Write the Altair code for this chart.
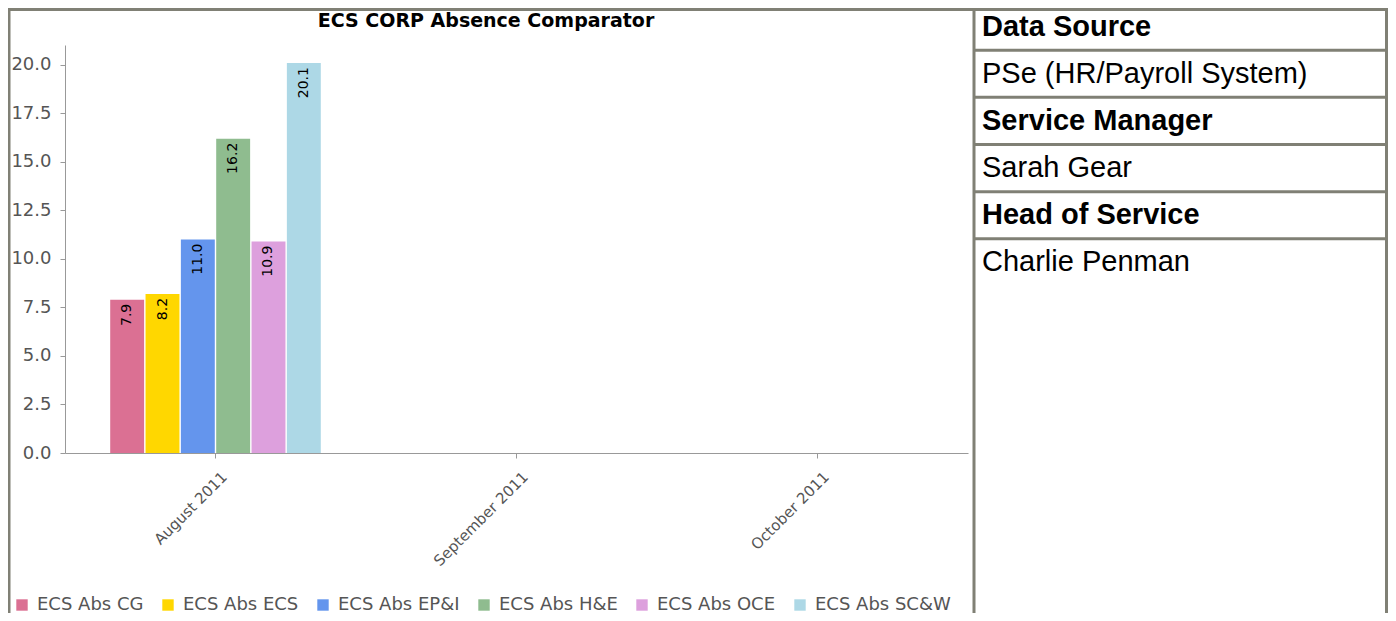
import altair as alt
import pandas as pd

# ---------------- data ----------------
title_text = "ECS CORP Absence Comparator"
months = ["August 2011", "September 2011", "October 2011"]
series = ["ECS Abs CG", "ECS Abs ECS", "ECS Abs EP&I", "ECS Abs H&E", "ECS Abs OCE", "ECS Abs SC&W"]
bar_month = ["August 2011"] * 6
bar_values = [7.9, 8.2, 11.0, 16.2, 10.9, 20.1]
series_colors = ["#db7093", "#ffd700", "#6495ed", "#8fbc8f", "#dda0dd", "#add8e6"]
y_ticks = [0.0, 2.5, 5.0, 7.5, 10.0, 12.5, 15.0, 17.5, 20.0]
table_labels = ["Data Source", "PSe (HR/Payroll System)", "Service Manager",
                "Sarah Gear", "Head of Service", "Charlie Penman"]
table_bold = [True, False, True, False, True, False]

# ---------------- layout (page pixels) ----------------
MARGIN = 8
CANVAS_W, CANVAS_H = 1380, 605
PLOT_LEFT, PLOT_TOP = 65, 45
PLOT_W, PLOT_H = 903, 408
PAD_L = PLOT_LEFT - MARGIN
PAD_T = PLOT_TOP - MARGIN
PAD_R = CANVAS_W - PAD_L - PLOT_W
PAD_B = CANVAS_H - PAD_T - PLOT_H


def px(page_x):
    return page_x - PLOT_LEFT


def py(page_y):
    return page_y - PLOT_TOP


BORDER = "#808075"
CHART_FONT = "DejaVu Sans"
TABLE_FONT = "Liberation Sans"
LABEL_GREY = "#555555"

bars_df = pd.DataFrame({"month": bar_month, "series": series, "value": bar_values})
table_df = pd.DataFrame({"row": list(range(len(table_labels))), "label": table_labels,
                         "bold": table_bold})

x_scale = alt.Scale(domain=months, paddingInner=0.183, paddingOuter=0.0915)
xo_scale = alt.Scale(domain=series, paddingInner=0.04, paddingOuter=0.5)
y_scale = alt.Scale(domain=[0, 21.03], nice=False, zero=True)

bars = alt.Chart(bars_df).mark_bar().encode(
    x=alt.X("month:N", scale=x_scale, sort=months, title=None,
            axis=alt.Axis(labelAngle=-45, labelFont=CHART_FONT, labelFontSize=15,
                          labelColor=LABEL_GREY, domainColor="#999", tickColor="#999",
                          tickSize=5, labelPadding=11, labelOffset=4, grid=False)),
    xOffset=alt.XOffset("series:N", scale=xo_scale, sort=series),
    y=alt.Y("value:Q", scale=y_scale, title=None,
            axis=alt.Axis(values=y_ticks, format=".1f", labelFont=CHART_FONT,
                          labelFontSize=18, labelColor=LABEL_GREY, domainColor="#999",
                          tickColor="#999", tickSize=5, labelPadding=9, grid=False)),
    color=alt.Color("series:N", sort=series,
                    scale=alt.Scale(domain=series, range=series_colors),
                    legend=alt.Legend(title=None, orient="none", direction="horizontal",
                                      legendX=px(13), legendY=py(596),
                                      symbolType="square", symbolSize=130,
                                      symbolStrokeWidth=0, labelFont=CHART_FONT,
                                      labelFontSize=18, labelColor=LABEL_GREY,
                                      labelOffset=6, columnPadding=15)),
)

labels = alt.Chart(bars_df).mark_text(
    angle=270, align="right", baseline="middle", dx=-4,
    font=CHART_FONT, fontSize=14, color="black"
).encode(
    x=alt.X("month:N", scale=x_scale, sort=months, axis=None),
    xOffset=alt.XOffset("series:N", scale=xo_scale, sort=series),
    y=alt.Y("value:Q", scale=y_scale, axis=None),
    text=alt.Text("value:Q", format=".1f"),
)

title_layer = alt.Chart(pd.DataFrame({"t": [title_text]})).mark_text(
    font=CHART_FONT, fontSize=19, fontWeight="bold", color="black",
    align="center", baseline="middle"
).encode(x=alt.value(px(486)), y=alt.value(py(21)), text="t:N")

one = pd.DataFrame({"k": [0]})
frame_top = alt.Chart(one).mark_rule(color=BORDER, strokeWidth=3).encode(
    x=alt.value(px(MARGIN)), x2=alt.value(px(MARGIN + CANVAS_W)), y=alt.value(py(MARGIN + 1.5)))
frame_left = alt.Chart(one).mark_rule(color=BORDER, strokeWidth=2.5).encode(
    x=alt.value(px(MARGIN + 1.25)), y=alt.value(py(MARGIN)), y2=alt.value(py(MARGIN + CANVAS_H)))
frame_right = alt.Chart(one).mark_rule(color=BORDER, strokeWidth=3).encode(
    x=alt.value(px(MARGIN + CANVAS_W - 1.5)), y=alt.value(py(MARGIN)), y2=alt.value(py(MARGIN + CANVAS_H)))
frame_mid = alt.Chart(one).mark_rule(color=BORDER, strokeWidth=3).encode(
    x=alt.value(px(974)), y=alt.value(py(MARGIN)), y2=alt.value(py(MARGIN + CANVAS_H)))

tbl_scale = alt.Scale(domain=list(range(len(table_labels))), range=[py(3), py(286)],
                      paddingInner=0, paddingOuter=0)


def table_text_layer(bold):
    return alt.Chart(table_df).transform_filter(
        "datum.bold" if bold else "!datum.bold"
    ).mark_text(
        align="left", baseline="middle", font=TABLE_FONT, fontSize=29, color="black",
        fontWeight="bold" if bold else "normal"
    ).encode(
        x=alt.value(px(982)),
        y=alt.Y("row:O", scale=tbl_scale, axis=None),
        text="label:N",
    )


table_lines = alt.Chart(table_df).transform_filter("datum.row > 0").mark_rule(
    color=BORDER, strokeWidth=3
).encode(
    y=alt.Y("row:O", scale=tbl_scale, axis=None, bandPosition=0),
    x=alt.value(px(974)), x2=alt.value(px(MARGIN + CANVAS_W)),
)

chart = alt.layer(
    bars, labels, title_layer, table_lines, frame_top, frame_left, frame_right, frame_mid,
    table_text_layer(True), table_text_layer(False)
).resolve_scale(
    x="independent", y="independent"
).properties(
    width=PLOT_W, height=PLOT_H,
    autosize=alt.AutoSizeParams(type="none"),
    padding={"left": PAD_L, "top": PAD_T, "right": PAD_R, "bottom": PAD_B},
    background="white",
).configure_view(stroke=None)

chart.save("out.html", embed_options={"renderer": "svg", "actions": False})
